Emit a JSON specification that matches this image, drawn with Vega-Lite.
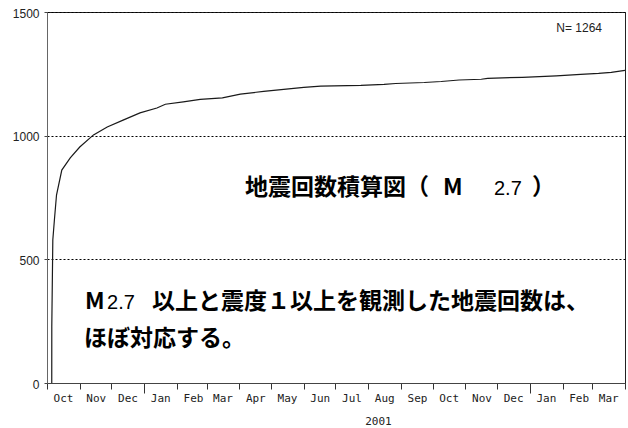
{
  "$schema": "https://vega.github.io/schema/vega-lite/v6.json",
  "width": 578,
  "height": 371,
  "autosize": {"type": "none"},
  "padding": {"left": 47, "top": 12, "right": 3, "bottom": 45},
  "background": "white",
  "config": {
    "view": {"stroke": "#222", "strokeWidth": 1}
  },
  "datasets": {
    "curve": [
      {"d": "2000-10-05T12:00", "v": 0},
      {"d": "2000-10-05T13:00", "v": 228},
      {"d": "2000-10-06T12:00", "v": 578},
      {"d": "2000-10-08T00:00", "v": 659},
      {"d": "2000-10-10T00:00", "v": 760},
      {"d": "2000-10-15T00:00", "v": 861},
      {"d": "2000-10-23T00:00", "v": 910},
      {"d": "2000-11-01T00:00", "v": 954},
      {"d": "2000-11-14T00:00", "v": 1003},
      {"d": "2000-11-27T00:00", "v": 1035},
      {"d": "2000-12-12T00:00", "v": 1063},
      {"d": "2000-12-28T00:00", "v": 1092},
      {"d": "2001-01-13T00:00", "v": 1112},
      {"d": "2001-01-21T00:00", "v": 1127},
      {"d": "2001-02-07T00:00", "v": 1137},
      {"d": "2001-02-23T00:00", "v": 1147},
      {"d": "2001-03-16T00:00", "v": 1153},
      {"d": "2001-04-02T00:00", "v": 1168},
      {"d": "2001-04-24T00:00", "v": 1179},
      {"d": "2001-05-13T00:00", "v": 1187},
      {"d": "2001-06-01T00:00", "v": 1195},
      {"d": "2001-06-17T00:00", "v": 1200},
      {"d": "2001-07-25T00:00", "v": 1203},
      {"d": "2001-08-16T00:00", "v": 1207},
      {"d": "2001-08-27T00:00", "v": 1211},
      {"d": "2001-09-23T00:00", "v": 1215},
      {"d": "2001-10-09T00:00", "v": 1219},
      {"d": "2001-10-26T00:00", "v": 1225},
      {"d": "2001-11-16T00:00", "v": 1228},
      {"d": "2001-11-22T00:00", "v": 1232},
      {"d": "2001-12-25T00:00", "v": 1236},
      {"d": "2002-01-26T00:00", "v": 1242},
      {"d": "2002-02-18T00:00", "v": 1248},
      {"d": "2002-03-07T00:00", "v": 1252},
      {"d": "2002-03-19T00:00", "v": 1256},
      {"d": "2002-03-31T23:00", "v": 1264}
    ],
    "boldText": [
      {"d": "2001-04-06T10:00", "v": 788, "t": "地震回数積算図（"},
      {"d": "2001-10-10T19:00", "v": 788, "t": "M"},
      {"d": "2002-01-03T00:00", "v": 788, "t": "）"},
      {"d": "2000-11-06T00:00", "v": 327, "t": "M"},
      {"d": "2001-01-08T10:00", "v": 327, "t": "以上と震度１以上を観測した地震回数は、"},
      {"d": "2000-11-05T00:00", "v": 178, "t": "ほぼ対応する。"}
    ],
    "regText": [
      {"d": "2001-11-28T00:00", "v": 788, "t": "2.7"},
      {"d": "2000-11-26T19:00", "v": 327, "t": "2.7"}
    ],
    "nText": [
      {"d": "2002-03-10T05:00", "v": 1435, "t": "N=  1264"}
    ]
  },
  "encoding": {
    "x": {
      "field": "d",
      "type": "temporal",
      "scale": {"domain": [{"year": 2000, "month": 10, "date": 1}, {"year": 2002, "month": 4, "date": 1}], "nice": false},
      "axis": {
        "title": "2001",
        "values": [
          {"year": 2000, "month": 10, "date": 1}, {"year": 2000, "month": 11, "date": 1}, {"year": 2000, "month": 12, "date": 1},
          {"year": 2001, "month": 1, "date": 1}, {"year": 2001, "month": 2, "date": 1}, {"year": 2001, "month": 3, "date": 1},
          {"year": 2001, "month": 4, "date": 1}, {"year": 2001, "month": 5, "date": 1}, {"year": 2001, "month": 6, "date": 1},
          {"year": 2001, "month": 7, "date": 1}, {"year": 2001, "month": 8, "date": 1}, {"year": 2001, "month": 9, "date": 1},
          {"year": 2001, "month": 10, "date": 1}, {"year": 2001, "month": 11, "date": 1}, {"year": 2001, "month": 12, "date": 1},
          {"year": 2002, "month": 1, "date": 1}, {"year": 2002, "month": 2, "date": 1}, {"year": 2002, "month": 3, "date": 1},
          {"year": 2002, "month": 4, "date": 1}
        ],
        "labelExpr": "year(datum.value) === 2002 && month(datum.value) === 3 ? '' : timeFormat(datum.value, '%b')",
        "labelOffset": 16,
        "labelAlign": "center",
        "labelFlush": false,
        "labelOverlap": false,
        "labelFont": "DejaVu Sans Mono",
        "labelFontSize": 11,
        "labelColor": "#222",
        "labelPadding": {"condition": {"test": "month(datum.value) === 0", "value": -1}, "value": 3},
        "tickSize": {"condition": {"test": "month(datum.value) === 0", "value": 10}, "value": 6},
        "tickColor": "#333",
        "tickWidth": 1,
        "domainColor": "#444",
        "grid": false,
        "titleX": 331,
        "titleY": 41,
        "titleAlign": "center",
        "titleBaseline": "alphabetic",
        "titleFont": "DejaVu Sans Mono",
        "titleFontSize": 11,
        "titleFontWeight": "normal",
        "titleColor": "#222"
      }
    },
    "y": {
      "field": "v",
      "type": "quantitative",
      "scale": {"domain": [0, 1500], "nice": false},
      "axis": {
        "title": null,
        "format": "d",
        "values": [0, 500, 1000, 1500],
        "grid": true,
        "gridDash": [2, 2],
        "gridColor": "#000",
        "gridOpacity": 1,
        "gridWidth": 1,
        "tickSize": 3,
        "tickColor": "#444",
        "domainColor": "#666",
        "labelPadding": 5,
        "labelOffset": 1,
        "labelFont": "Liberation Sans",
        "labelFontSize": 12,
        "labelColor": "#222"
      }
    }
  },
  "layer": [
    {
      "data": {"name": "curve"},
      "mark": {"type": "line", "color": "#1a1a1a", "strokeWidth": 1.2, "interpolate": "linear"}
    },
    {
      "data": {"name": "boldText"},
      "mark": {"type": "text", "align": "left", "baseline": "middle", "font": "Noto Sans CJK JP", "fontWeight": "bold", "fontSize": 23, "color": "#000"},
      "encoding": {"text": {"field": "t"}}
    },
    {
      "data": {"name": "regText"},
      "mark": {"type": "text", "align": "left", "baseline": "middle", "font": "Liberation Sans", "fontSize": 20, "color": "#000", "dy": 1},
      "encoding": {"text": {"field": "t"}}
    },
    {
      "data": {"name": "nText"},
      "mark": {"type": "text", "align": "right", "baseline": "middle", "font": "Liberation Sans", "fontSize": 12, "color": "#222"},
      "encoding": {"text": {"field": "t"}}
    }
  ]
}
